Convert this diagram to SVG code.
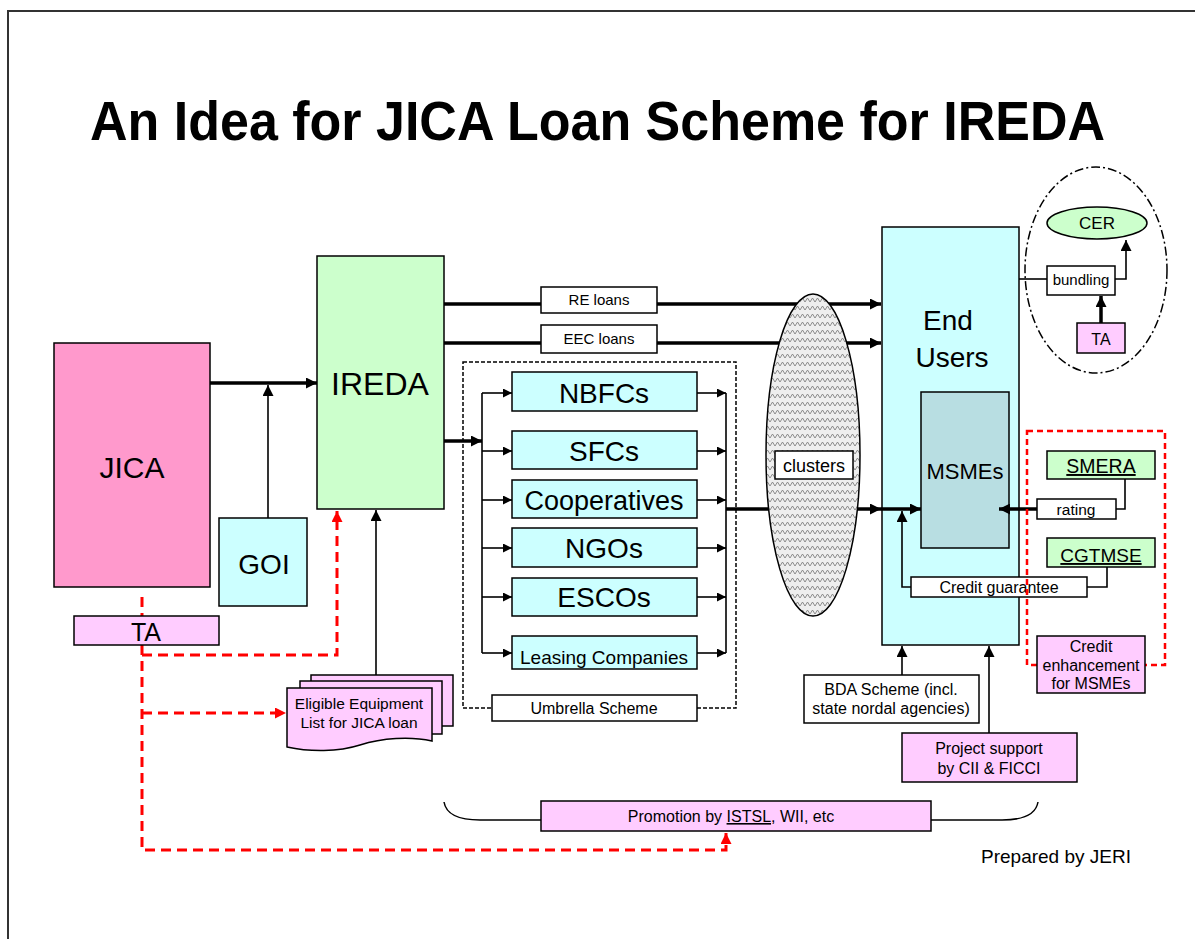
<svg xmlns="http://www.w3.org/2000/svg" width="1195" height="939" viewBox="0 0 1195 939">
<style>
.t{font-family:"Liberation Sans",Arial,sans-serif;text-anchor:middle;fill:#000}
.b{stroke:#000;stroke-width:1.5}
.thick{stroke:#000;stroke-width:3.5;fill:none}
.thin{stroke:#000;stroke-width:1.6;fill:none}
.red{stroke:#FF0000;stroke-width:3;stroke-dasharray:10 6;fill:none}
.pink{fill:#FFCCFF}
.cyan{fill:#CCFFFF}
.green{fill:#CCFFCC}
.white{fill:#FFFFFF}
</style>
<defs>
<marker id="ah" viewBox="0 0 10 10" refX="10" refY="5" markerWidth="12" markerHeight="11" markerUnits="userSpaceOnUse" orient="auto"><path d="M0,0 L10,5 L0,10 z" fill="#000"/></marker>
<marker id="ahs" viewBox="0 0 10 10" refX="10" refY="5" markerWidth="10" markerHeight="9" markerUnits="userSpaceOnUse" orient="auto"><path d="M0,0 L10,5 L0,10 z" fill="#000"/></marker>
<marker id="ahr" viewBox="0 0 10 10" refX="10" refY="5" markerWidth="12" markerHeight="11" markerUnits="userSpaceOnUse" orient="auto"><path d="M0,0 L10,5 L0,10 z" fill="#FF0000"/></marker>
<pattern id="wave" width="10" height="8" patternUnits="userSpaceOnUse">
<rect width="10" height="8" fill="#eeeeee"/>
<path d="M0,6 L2.5,2 L5,6 L7.5,2 L10,6" stroke="#808080" stroke-width="0.9" fill="none"/>
</pattern>
</defs>
<rect width="1195" height="939" fill="#FFFFFF"/>
<path d="M8,939 V11 H1195" fill="none" stroke="#333" stroke-width="2"/>
<text x="90" y="140" font-family="Liberation Sans,Arial,sans-serif" font-weight="bold" font-size="55" textLength="1015" lengthAdjust="spacingAndGlyphs">An Idea for JICA Loan Scheme for IREDA</text>

<g id="connectors">
<line class="thick" x1="210" y1="383" x2="317" y2="383" marker-end="url(#ah)"/>
<line class="thin" x1="268" y1="518" x2="268" y2="385" marker-end="url(#ah)"/>
<line class="thick" x1="444" y1="304" x2="881" y2="304" marker-end="url(#ah)"/>
<line class="thick" x1="444" y1="343" x2="881" y2="343" marker-end="url(#ah)"/>
<line class="thick" x1="444" y1="441" x2="482" y2="441" marker-end="url(#ah)"/>
<line class="thin" x1="482" y1="393" x2="482" y2="653" stroke-width="2"/>
<line class="thin" x1="482" y1="393" x2="512" y2="393" marker-end="url(#ahs)"/>
<line class="thin" x1="482" y1="451" x2="512" y2="451" marker-end="url(#ahs)"/>
<line class="thin" x1="482" y1="500" x2="512" y2="500" marker-end="url(#ahs)"/>
<line class="thin" x1="482" y1="548" x2="512" y2="548" marker-end="url(#ahs)"/>
<line class="thin" x1="482" y1="597" x2="512" y2="597" marker-end="url(#ahs)"/>
<line class="thin" x1="482" y1="653" x2="512" y2="653" marker-end="url(#ahs)"/>
<line class="thin" x1="697" y1="393" x2="726" y2="393" marker-end="url(#ahs)"/>
<line class="thin" x1="697" y1="451" x2="726" y2="451" marker-end="url(#ahs)"/>
<line class="thin" x1="697" y1="500" x2="726" y2="500" marker-end="url(#ahs)"/>
<line class="thin" x1="697" y1="548" x2="726" y2="548" marker-end="url(#ahs)"/>
<line class="thin" x1="697" y1="597" x2="726" y2="597" marker-end="url(#ahs)"/>
<line class="thin" x1="697" y1="653" x2="726" y2="653" marker-end="url(#ahs)"/>
<line class="thin" x1="726" y1="393" x2="726" y2="653" stroke-width="2"/>
<line class="thick" x1="726" y1="509" x2="881" y2="509" marker-end="url(#ah)"/>
<path class="thin" d="M1107,567 V587 H1087"/>
<path class="thin" d="M1125,479 V509 H1116"/>
<line class="thin" x1="1019" y1="279" x2="1047" y2="279"/>
<path class="thin" d="M1115,279 H1126 V240" marker-end="url(#ah)"/>
<line class="thick" x1="1101" y1="323" x2="1101" y2="296" marker-end="url(#ah)"/>
<line class="thin" x1="376" y1="675" x2="376" y2="510" marker-end="url(#ah)"/>
<line class="thin" x1="902" y1="675" x2="902" y2="646" marker-end="url(#ah)"/>
<line class="thin" x1="989" y1="733" x2="989" y2="646" marker-end="url(#ah)"/>
<path class="red" d="M142,597 V850 H726 V833" marker-end="url(#ahr)"/>
<path class="red" d="M142,655 H337 V511" marker-end="url(#ahr)"/>
<path class="red" d="M142,713 H286" marker-end="url(#ahr)"/>
<path d="M444,802 Q447,820 480,820 H541 M931,820 H1002 Q1035,820 1038,802" fill="none" stroke="#000" stroke-width="1.5"/>
</g>

<g id="jica"><rect class="b" x="54" y="343" width="156" height="244" fill="#FF99CC"/><text class="t" x="132" y="478" font-size="30">JICA</text></g>
<g id="goi"><rect class="b cyan" x="219" y="518" width="88" height="88"/><text class="t" x="264" y="574" font-size="28">GOI</text></g>
<g id="ta-left"><rect class="b pink" x="74" y="616" width="145" height="29"/><text class="t" x="146" y="641" font-size="25">TA</text></g>
<g id="ireda"><rect class="b green" x="317" y="256" width="127" height="253"/><text class="t" x="380" y="395" font-size="32">IREDA</text></g>

<g id="re-loans"><rect class="b white" x="541" y="287" width="116" height="26"/><text class="t" x="599" y="305" font-size="15">RE loans</text></g>
<g id="eec-loans"><rect class="b white" x="541" y="325" width="116" height="28"/><text class="t" x="599" y="344" font-size="15">EEC loans</text></g>

<g id="umbrella">
<rect x="463" y="362" width="273" height="346" fill="none" stroke="#000" stroke-width="1.5" stroke-dasharray="4 2"/>
<rect class="b white" x="492" y="695" width="205" height="26"/><text class="t" x="594" y="714" font-size="16">Umbrella Scheme</text>
</g>
<g id="nbfcs"><rect class="b cyan" x="512" y="372" width="185" height="39"/><text class="t" x="604" y="403" font-size="28">NBFCs</text></g>
<g id="sfcs"><rect class="b cyan" x="512" y="431" width="185" height="38"/><text class="t" x="604" y="461" font-size="28">SFCs</text></g>
<g id="cooperatives"><rect class="b cyan" x="512" y="480" width="185" height="38"/><text class="t" x="604" y="510" font-size="27">Cooperatives</text></g>
<g id="ngos"><rect class="b cyan" x="512" y="528" width="185" height="39"/><text class="t" x="604" y="558" font-size="28">NGOs</text></g>
<g id="escos"><rect class="b cyan" x="512" y="578" width="185" height="38"/><text class="t" x="604" y="607" font-size="28">ESCOs</text></g>
<g id="leasing"><rect class="b cyan" x="512" y="636" width="185" height="33"/><text class="t" x="604" y="664" font-size="19">Leasing Companies</text></g>

<g id="clusters">
<ellipse cx="813" cy="455" rx="47" ry="161" fill="url(#wave)" stroke="#000" stroke-width="1.5"/>
<rect class="b white" x="775" y="451" width="78" height="28"/><text class="t" x="814" y="472" font-size="18">clusters</text>
</g>

<g id="end-users"><rect class="b cyan" x="882" y="227" width="137" height="418"/><text class="t" x="948" y="330" font-size="28">End</text><text class="t" x="952" y="367" font-size="28">Users</text></g>
<g id="msmes"><rect class="b" x="921" y="392" width="88" height="156" fill="#B8DEE2"/><text class="t" x="965" y="479" font-size="22">MSMEs</text></g>

<g id="connectors-inner">
<line class="thick" x1="881" y1="509" x2="921" y2="509" marker-end="url(#ah)"/>
<path class="thin" d="M911,587 H902 V511" marker-end="url(#ah)"/>
<line class="thick" x1="1037" y1="509" x2="999" y2="509" marker-end="url(#ah)"/>
</g>

<g id="credit-guarantee"><rect class="b white" x="911" y="577" width="176" height="20"/><text class="t" x="999" y="593" font-size="16">Credit guarantee</text></g>
<g id="rating"><rect class="b white" x="1037" y="499" width="79" height="20"/><text class="t" x="1076" y="515" font-size="15.5">rating</text></g>
<g id="smera"><rect class="b green" x="1047" y="451" width="108" height="28"/><text class="t" x="1101" y="473" font-size="19.5" text-decoration="underline">SMERA</text></g>
<g id="cgtmse"><rect class="b green" x="1047" y="538" width="108" height="29"/><text class="t" x="1101" y="562" font-size="19" text-decoration="underline">CGTMSE</text></g>
<rect id="credit-enh-frame" x="1027" y="431" width="138" height="234" fill="none" stroke="#FF0000" stroke-width="2.5" stroke-dasharray="6 4"/>
<g id="credit-enhancement"><rect class="b pink" x="1037" y="636" width="108" height="57"/><text class="t" x="1091" y="652" font-size="16">Credit</text><text class="t" x="1091" y="671" font-size="16">enhancement</text><text class="t" x="1091" y="689" font-size="16">for MSMEs</text></g>

<g id="cer-group">
<ellipse cx="1096" cy="270" rx="71" ry="103" fill="none" stroke="#000" stroke-width="1.5" stroke-dasharray="9 3 2 3"/>
<g id="cer"><ellipse cx="1097" cy="223" rx="50" ry="16" fill="#CCFFCC" stroke="#000" stroke-width="1.5"/><text class="t" x="1097" y="229" font-size="17">CER</text></g>
<g id="bundling"><rect class="b white" x="1047" y="266" width="68" height="29"/><text class="t" x="1081" y="285" font-size="15">bundling</text></g>
<g id="ta-right"><rect class="b pink" x="1077" y="323" width="48" height="30"/><text class="t" x="1101" y="345" font-size="16">TA</text></g>
</g>

<g id="eligible-list">
<rect class="b pink" x="311" y="675" width="142" height="51"/>
<rect class="b pink" x="300" y="681" width="142" height="53"/>
<path class="b pink" d="M287,688 H432 V741 C410,736 382,738 360,745 C338,752 310,752 287,747 Z"/>
<text class="t" x="359" y="709" font-size="15.5">Eligible Equipment</text>
<text class="t" x="359" y="728" font-size="15.5">List for JICA loan</text>
</g>

<g id="bda"><rect class="b white" x="804" y="675" width="175" height="48"/><text class="t" x="891" y="695" font-size="16">BDA Scheme (incl.</text><text class="t" x="891" y="714" font-size="16">state nordal agencies)</text></g>
<g id="project-support"><rect class="b pink" x="902" y="733" width="175" height="49"/><text class="t" x="989" y="754" font-size="16">Project support</text><text class="t" x="989" y="774" font-size="16">by CII &amp; FICCI</text></g>
<g id="promotion"><rect class="b pink" x="541" y="801" width="390" height="30"/><text class="t" x="731" y="822" font-size="16">Promotion by <tspan text-decoration="underline">ISTSL</tspan>, WII, etc</text></g>

<text x="981" y="863" font-family="Liberation Sans,Arial,sans-serif" font-size="19">Prepared by JERI</text>
</svg>
